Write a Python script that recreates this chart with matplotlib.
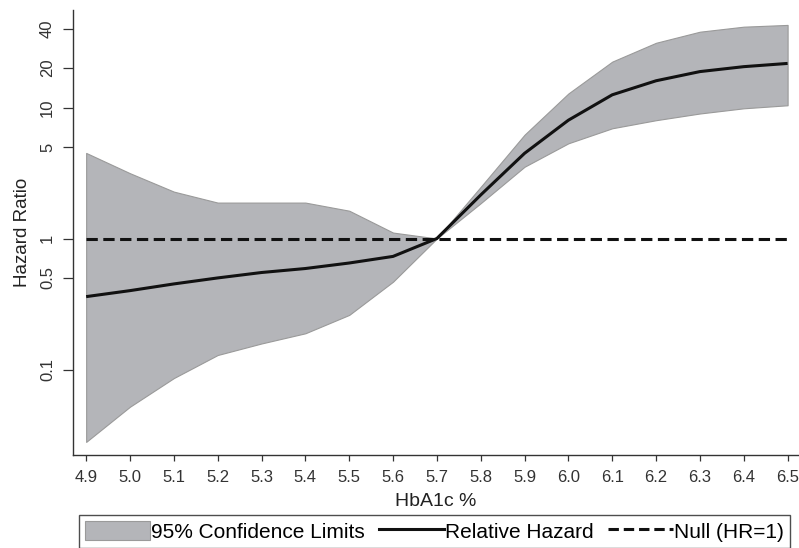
import matplotlib
matplotlib.use('Agg')
import matplotlib.pyplot as plt
from matplotlib.patches import Patch
from matplotlib.lines import Line2D

plt.rcParams['font.family'] = ['Liberation Sans', 'DejaVu Sans']

# HbA1c grid and estimates
hba1c = [4.9, 5.0, 5.1, 5.2, 5.3, 5.4, 5.5, 5.6, 5.7, 5.8, 5.9, 6.0, 6.1, 6.2, 6.3, 6.4, 6.5]
hazard = [0.36, 0.40, 0.45, 0.50, 0.55, 0.59, 0.65, 0.73, 1.0, 2.15, 4.47, 8.0, 12.5, 16.0, 18.8, 20.5, 21.7]
ci_upper = [4.5, 3.15, 2.28, 1.88, 1.88, 1.88, 1.63, 1.11, 1.0, 2.48, 6.2, 12.8, 22.4, 31.2, 37.9, 41.4, 42.7]
ci_lower = [0.028, 0.052, 0.086, 0.129, 0.158, 0.189, 0.261, 0.468, 1.0, 1.86, 3.53, 5.33, 6.94, 8.0, 9.0, 9.86, 10.4]
null_hr = [1.0] * len(hba1c)

y_ticks = [0.1, 0.5, 1, 5, 10, 20, 40]
y_labels = ['0.1', '0.5', '1', '5', '10', '20', '40']

fig = plt.figure(figsize=(7.99, 5.48), dpi=100)
ax = fig.add_axes([73 / 799, 93 / 548, 726 / 799, 445 / 548])

band_color = '#b4b5b9'
ax.fill_between(hba1c, ci_lower, ci_upper, facecolor=band_color, edgecolor='#9a9a9a', linewidth=0.8)
ax.plot(hba1c, hazard, color='#111111', linewidth=2.2, solid_capstyle='butt')
ax.plot(hba1c, null_hr, color='#111111', linewidth=2.2, dashes=(3.7, 1.8))

ax.set_yscale('log')
ax.set_ylim(0.02225, 55.5)
ax.set_xlim(4.870, 6.526)

ax.set_xticks(hba1c)
ax.set_xticklabels(['%.1f' % v for v in hba1c])
ax.set_yticks(y_ticks)
ax.set_yticklabels(y_labels, rotation=90, va='center')
ax.minorticks_off()

ax.tick_params(axis='x', length=4.5, width=0.9, pad=6, labelsize=12, colors='#333333')
ax.tick_params(axis='y', length=7, width=0.9, pad=6, labelsize=12, colors='#333333')

for side in ['top', 'right']:
    ax.spines[side].set_visible(False)
for side in ['left', 'bottom']:
    ax.spines[side].set_linewidth(1.0)
    ax.spines[side].set_color('#333333')

ax.set_xlabel('HbA1c %', fontsize=14, color='#222222', labelpad=6)
ax.set_ylabel('Hazard Ratio', fontsize=13.5, color='#222222')
ax.yaxis.set_label_coords(-0.058, 0.5)

handles = [
    Patch(facecolor=band_color, edgecolor='#9a9a9a', linewidth=0.8),
    Line2D([], [], color='#111111', linewidth=2.2),
    Line2D([], [], color='#111111', linewidth=2.2, dashes=(3.4, 1.6)),
]
labels = ['95% Confidence Limits', 'Relative Hazard', 'Null (HR=1)']
leg = fig.legend(handles, labels, loc='upper left', bbox_to_anchor=(79 / 799, 1 - 515 / 548),
                 ncol=3, fontsize=15, frameon=True, fancybox=False, borderaxespad=0,
                 handlelength=3.1, handleheight=1.0, handletextpad=0.05,
                 columnspacing=0.7, borderpad=0.3)
leg.get_frame().set_edgecolor('#222222')
leg.get_frame().set_linewidth(1.0)

fig.savefig('out.png', dpi=100)
